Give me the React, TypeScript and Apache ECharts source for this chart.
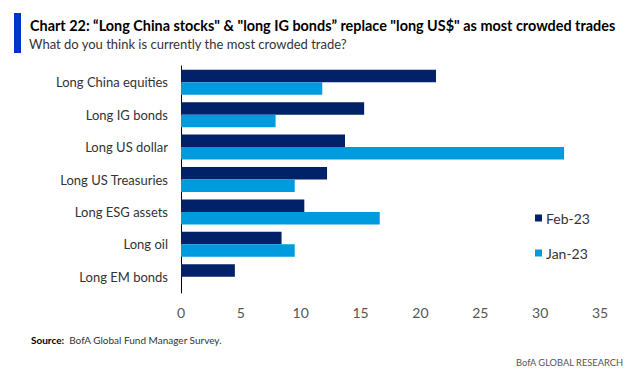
import React, { useEffect, useRef } from "react";
import * as echarts from "echarts";

const categories = [
  "Long China equities",
  "Long IG bonds",
  "Long US dollar",
  "Long US Treasuries",
  "Long ESG assets",
  "Long oil",
  "Long EM bonds",
];
const feb23 = [21.3, 15.3, 13.7, 12.2, 10.3, 8.4, 4.5];
const jan23 = [11.8, 7.9, 32.0, 9.5, 16.6, 9.5, 0];
const xTicks = [0, 5, 10, 15, 20, 25, 30, 35];
const seriesNames = ["Feb-23", "Jan-23"];

const titleText = "Chart 22: \u201cLong China stocks\" & \"long IG bonds\u201d replace \"long US$\" as most crowded trades";
const subtitleText = "What do you think is currently the most crowded trade?";

export default function App() {
  const ref = useRef<HTMLDivElement>(null);
  useEffect(() => {
    if (!ref.current) return;
    const chart = echarts.init(ref.current, null, { renderer: "svg" });
    const font = "Lato, 'Open Sans', sans-serif";
    chart.setOption({
      animation: false,
      backgroundColor: "#ffffff",
      textStyle: { fontFamily: font },
      grid: { left: 181, right: 39, top: 66, bottom: 81 },
      legend: {
        orient: "vertical",
        left: 530,
        top: 206,
        itemWidth: 7,
        itemHeight: 7,
        itemGap: 21,
        icon: "rect",
        data: seriesNames,
        textStyle: { fontSize: 14, color: "#333", fontFamily: font, padding: [0, 0, 0, -1] },
      },
      xAxis: {
        type: "value",
        min: 0,
        max: 35,
        interval: 5,
        axisLine: { show: false },
        axisTick: { show: false },
        splitLine: { show: false },
        axisLabel: {
          fontSize: 14,
          color: "#555",
          margin: 12,
          formatter: (v: number) => (xTicks.includes(v) ? String(v) : ""),
        },
      },
      yAxis: {
        type: "category",
        inverse: true,
        data: categories,
        axisLine: { show: true, lineStyle: { color: "#000", width: 1 } },
        axisTick: { show: false },
        axisLabel: { fontSize: 13, color: "#333", margin: 13 },
      },
      series: [
        {
          name: seriesNames[0],
          type: "bar",
          data: feb23,
          barWidth: 12.5,
          barGap: "0%",
          itemStyle: { color: "#012169" },
        },
        {
          name: seriesNames[1],
          type: "bar",
          data: jan23,
          barWidth: 12.5,
          barGap: "0%",
          itemStyle: { color: "#009ADE" },
        },
      ],
      graphic: [
        { type: "rect", shape: { x: 14, y: 13, width: 7, height: 40 }, style: { fill: "#0033CC" } },
        {
          type: "text",
          x: 30,
          y: 25,
          scaleX: 0.9,
          style: {
            text: titleText,
            fontSize: 16,
            fontWeight: "bold",
            fill: "#000",
            fontFamily: font,
            verticalAlign: "middle",
          },
        },
        {
          type: "text",
          x: 29,
          y: 43.5,
          scaleX: 0.93,
          style: {
            text: subtitleText,
            fontSize: 14,
            fill: "#333",
            fontFamily: font,
            verticalAlign: "middle",
          },
        },
        {
          type: "text",
          x: 31,
          y: 340,
          style: {
            rich: {
              b: { fontWeight: "bold", fontSize: 10, fill: "#000", fontFamily: font },
              n: { fontSize: 10, fill: "#333", fontFamily: font },
            },
            text: "{b|Source:}{n|  BofA Global Fund Manager Survey.}",
            verticalAlign: "middle",
          },
        },
        {
          type: "text",
          x: 623,
          y: 362,
          scaleX: 0.93,
          style: {
            text: "BofA GLOBAL RESEARCH",
            fontSize: 10,
            fill: "#555",
            fontFamily: font,
            align: "right",
            verticalAlign: "middle",
          },
        },
      ],
    });
    return () => chart.dispose();
  }, []);
  return <div ref={ref} style={{ width: 639, height: 374, position: "absolute", left: 0, top: 0 }} />;
}
